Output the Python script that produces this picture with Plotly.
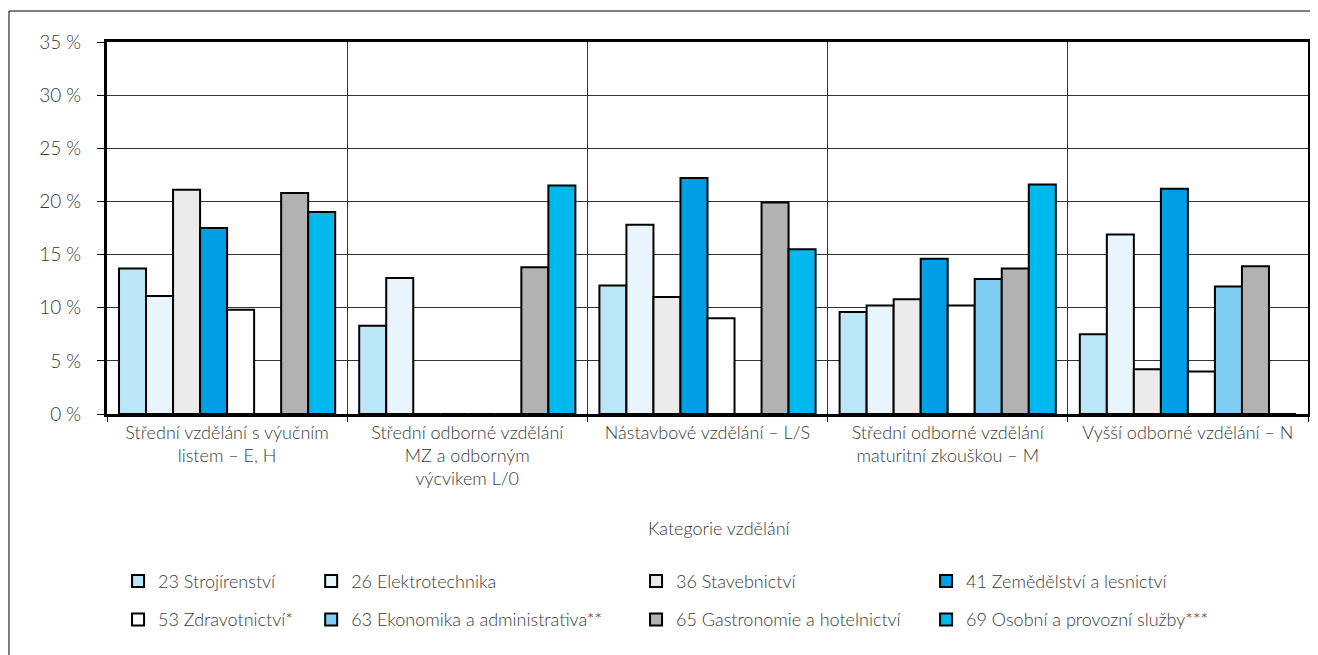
import plotly.graph_objects as go

kategorie = [
    "Střední vzdělání s výučním<br>listem – E, H",
    "Střední odborné vzdělání<br>MZ a odborným<br>výcvikem L/0",
    "Nástavbové vzdělání – L/S",
    "Střední odborné vzdělání<br>maturitní zkouškou – M",
    "Vyšší odborné vzdělání – N",
]

obory = [
    "23 Strojírenství",
    "26 Elektrotechnika",
    "36 Stavebnictví",
    "41 Zemědělství a lesnictví",
    "53 Zdravotnictví*",
    "63 Ekonomika a administrativa**",
    "65 Gastronomie a hotelnictví",
    "69 Osobní a provozní služby***",
]

s23 = [13.7, 8.3, 12.1, 9.6, 7.5]
s26 = [11.1, 12.8, 17.8, 10.2, 16.9]
s36 = [21.1, 0, 11.0, 10.8, 4.2]
s41 = [17.5, 0, 22.2, 14.6, 21.2]
s53 = [9.8, 0, 9.0, 10.2, 4.0]
s63 = [0, 0, 0, 12.7, 12.0]
s65 = [20.8, 13.8, 19.9, 13.7, 13.9]
s69 = [19.0, 21.5, 15.5, 21.6, 0]

hodnoty = [s23, s26, s36, s41, s53, s63, s65, s69]
barvy = ["#BDE5F8", "#E8F5FD", "#EBEBEB", "#009FE3",
         "#FFFFFF", "#80CEF3", "#B2B2B2", "#00B9EC"]

# legenda: 4 sloupce po 2 položkách
legendy = ["legend", "legend2", "legend3", "legend4",
           "legend", "legend2", "legend3", "legend4"]

font_name = "Lato"
text_col = "#3a3a3a"

fig = go.Figure()
for i, (nazev, vals) in enumerate(zip(obory, hodnoty)):
    fig.add_trace(go.Bar(
        x=kategorie, y=vals, name=nazev,
        marker=dict(color=barvy[i], line=dict(color="black", width=2)),
        legend=legendy[i], legendgroup=nazev,
    ))

leg_common = dict(
    orientation="v", yanchor="top", xanchor="left",
    y=-0.40, tracegroupgap=12,
    font=dict(family=font_name, size=18, color=text_col, weight=300),
    bgcolor="rgba(0,0,0,0)",
)

# stranka ma 8px okraj body, proto je figura o 8px mensi
fig.update_layout(
    width=1310, height=647,
    margin=dict(l=99, r=10, t=34, b=241),
    paper_bgcolor="white", plot_bgcolor="white",
    barmode="group", bargap=0.1, bargroupgap=0,
    font=dict(family=font_name, size=18, color=text_col, weight=300),
    legend=dict(x=0.0092, **leg_common),
    legend2=dict(x=0.170, **leg_common),
    legend3=dict(x=0.4405, **leg_common),
    legend4=dict(x=0.682, **leg_common),
    xaxis=dict(
        tickson="boundaries", showgrid=True, gridcolor="#333333", gridwidth=1,
        showline=True, linecolor="black", linewidth=3, mirror=True,
        ticks="outside", ticklen=5, tickcolor="black",
        tickfont=dict(size=18), automargin=False,
    ),
    yaxis=dict(
        range=[0, 35], dtick=5, ticksuffix=" %",
        showgrid=True, gridcolor="#333333", gridwidth=1,
        showline=True, linecolor="black", linewidth=3, mirror=True,
        ticks="outside", ticklen=7, tickcolor="black",
        tickfont=dict(size=19), automargin=False, zeroline=False,
        ticklabelstandoff=12,
    ),
    annotations=[dict(
        text="Kategorie vzdělání", xref="paper", yref="paper",
        x=0.51, y=-0.306, showarrow=False, yanchor="middle",
        font=dict(size=18),
    )],
    shapes=[dict(
        type="rect", xref="paper", yref="paper",
        x0=-0.0816, x1=1.1, y0=-1.0, y1=1.0833,
        line=dict(color="black", width=1), layer="below",
    )],
)

fig.write_html("out.html")
